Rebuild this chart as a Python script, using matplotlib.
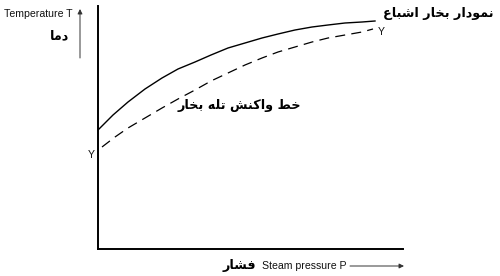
import matplotlib
matplotlib.use('Agg')
import matplotlib.pyplot as plt

# presentation forms: (isolated, final, initial, medial)
FORMS = {
    'ا': (0xFE8D, 0xFE8E, None, None),
    'ب': (0xFE8F, 0xFE90, 0xFE91, 0xFE92),
    'ت': (0xFE95, 0xFE96, 0xFE97, 0xFE98),
    'خ': (0xFEA5, 0xFEA6, 0xFEA7, 0xFEA8),
    'د': (0xFEA9, 0xFEAA, None, None),
    'ر': (0xFEAD, 0xFEAE, None, None),
    'ش': (0xFEB5, 0xFEB6, 0xFEB7, 0xFEB8),
    'ط': (0xFEC1, 0xFEC2, 0xFEC3, 0xFEC4),
    'ع': (0xFEC9, 0xFECA, 0xFECB, 0xFECC),
    'ف': (0xFED1, 0xFED2, 0xFED3, 0xFED4),
    'ک': (0xFED9, 0xFEDA, 0xFEDB, 0xFEDC),
    'ل': (0xFEDD, 0xFEDE, 0xFEDF, 0xFEE0),
    'م': (0xFEE1, 0xFEE2, 0xFEE3, 0xFEE4),
    'ن': (0xFEE5, 0xFEE6, 0xFEE7, 0xFEE8),
    'ه': (0xFEE9, 0xFEEA, 0xFEEB, 0xFEEC),
    'و': (0xFEED, 0xFEEE, None, None),
}


def shape(s):
    # join letters and reverse, matplotlib does no arabic shaping itself
    out = []
    for i, ch in enumerate(s):
        if ch not in FORMS:
            out.append(ch)
            continue
        iso, fin, ini, med = FORMS[ch]
        prev = s[i - 1] if i > 0 else ''
        nxt = s[i + 1] if i + 1 < len(s) else ''
        join_prev = prev in FORMS and FORMS[prev][2] is not None
        join_next = ini is not None and nxt in FORMS
        if join_prev and join_next:
            c = med
        elif join_prev:
            c = fin
        elif join_next:
            c = ini
        else:
            c = iso
        out.append(chr(c))
    return ''.join(reversed(out))


# curves (pressure, temperature in pixel-ish units)
sat_p = [0, 15, 30, 47, 64, 80, 97, 113, 130, 147, 164, 180, 197, 214, 230, 247, 264, 277]
sat_t = [119, 134, 147, 160, 171, 180, 187, 194, 201, 206, 211, 215, 219, 222, 224, 226, 227, 228]
trap_p = [4, 17, 30, 47, 64, 80, 97, 113, 130, 147, 164, 180, 197, 214, 230, 247, 264, 275]
trap_t = [102, 112, 121, 131, 141, 150, 159, 168, 176, 184, 191, 197, 202, 207, 211, 214, 217, 220]

sat_label = 'نمودار بخار اشباع'
trap_label = 'خط واکنش تله بخار'
t_label_fa = 'دما'
p_label_fa = 'فشار'
t_label_en = 'Temperature T'
p_label_en = 'Steam pressure P'

fig = plt.figure(figsize=(5, 2.76), dpi=100)
ax = fig.add_axes([0, 0, 1, 1])
ax.set_xlim(-98, 402)
ax.set_ylim(-27, 249)

ax.plot(sat_p, sat_t, color='black', lw=1.0)
ax.plot(trap_p, trap_t, color='black', lw=0.9, linestyle=(0, (8, 5)))

for side in ['top', 'right']:
    ax.spines[side].set_visible(False)
ax.spines['left'].set_position(('data', 0))
ax.spines['bottom'].set_position(('data', 0))
ax.spines['left'].set_bounds(0, 243)
ax.spines['bottom'].set_bounds(0, 305)
ax.spines['left'].set_linewidth(1.4)
ax.spines['bottom'].set_linewidth(1.4)
ax.set_xticks([])
ax.set_yticks([])

en = dict(family='Liberation Sans', fontsize=7.6, color='#111111')
fa = dict(family='DejaVu Sans', fontweight='bold', fontsize=9.2, color='black')

ax.text(-25, 235, t_label_en, ha='right', va='center', **en)
ax.text(-29, 213, shape(t_label_fa), ha='right', va='center', **fa)
ax.annotate('', xy=(-18, 240), xytext=(-18, 191),
            arrowprops=dict(arrowstyle='-|>', lw=0.7, color='#333333',
                            mutation_scale=7, shrinkA=0, shrinkB=0))

ax.text(285, 235, shape(sat_label), ha='left', va='center', **fa)
ax.text(283, 217, 'Y', ha='center', va='center', **en)
ax.text(-7, 94, 'Y', ha='center', va='center', **en)
ax.text(141, 144, shape(trap_label), ha='center', va='center', **fa)

ax.text(158, -17, shape(p_label_fa), ha='right', va='center', **fa)
ax.text(164, -17, p_label_en, ha='left', va='center', **en)
ax.annotate('', xy=(306, -17), xytext=(252, -17),
            arrowprops=dict(arrowstyle='-|>', lw=0.7, color='#333333',
                            mutation_scale=7, shrinkA=0, shrinkB=0))

fig.savefig('out.png', dpi=100)
